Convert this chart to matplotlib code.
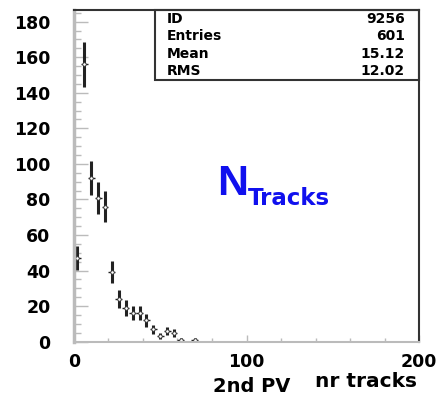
import numpy as np
import matplotlib
matplotlib.use('Agg')
import matplotlib.pyplot as plt
from matplotlib.ticker import MultipleLocator

# the reference uses a wide, heavy Helvetica; DejaVu Sans Bold is the closest in width
plt.rcParams['font.family'] = ['DejaVu Sans']
plt.rcParams['font.weight'] = 'bold'

# histogram contents, bins of width 4 starting at 0
bin_centers = [2, 6, 10, 14, 18, 22, 26, 30, 34, 38, 42, 46, 50, 54, 58, 62, 66, 70]
counts = [47, 156, 92, 81, 76, 39, 24, 19, 16, 16, 12, 7, 3, 6, 5, 1, 0, 1]

stat_names = ['ID', 'Entries', 'Mean', 'RMS']
stat_values = ['9256', '601', '15.12', '12.02']

x = np.array(bin_centers, dtype=float)
y = np.array(counts, dtype=float)
keep = y > 0
x, y = x[keep], y[keep]

fig = plt.figure(figsize=(4.42, 3.98), dpi=100)
ax = fig.add_axes([0.1674, 0.1415, 0.948 - 0.1674, 0.9749 - 0.1415])

# vertical error bars (sqrt N) and horizontal bin-width bars
ax.errorbar(x, y, yerr=np.sqrt(y), fmt='none', ecolor='#222222', elinewidth=2.2, capsize=0)
ax.errorbar(x, y, xerr=2, fmt='none', ecolor='#222222', elinewidth=1.0, capsize=0)
ax.plot(x, y, 'o', ms=2.5, mfc='white', mec='#333333', mew=0.6)

ax.set_xlim(0, 200)
ax.set_ylim(0, 186.6)

ax.xaxis.set_major_locator(MultipleLocator(100))
ax.xaxis.set_minor_locator(MultipleLocator(20))
ax.yaxis.set_major_locator(MultipleLocator(20))
ax.yaxis.set_minor_locator(MultipleLocator(5))

ax.tick_params(axis='both', which='both', direction='in', color='#bbbbbb')
ax.tick_params(axis='y', which='major', length=10, width=1, pad=17, labelsize=12.5)
ax.tick_params(axis='y', which='minor', length=5, width=1)
ax.tick_params(axis='x', which='major', length=5, width=1, pad=8, labelsize=12.5)
ax.tick_params(axis='x', which='minor', length=3, width=1)

ax.spines['left'].set_color('#bbbbbb')
ax.spines['left'].set_linewidth(2.5)
ax.spines['bottom'].set_color('#bbbbbb')
ax.spines['bottom'].set_linewidth(1.5)
ax.spines['top'].set_color('#333333')
ax.spines['top'].set_linewidth(1.5)
ax.spines['right'].set_color('#333333')
ax.spines['right'].set_linewidth(1.5)

# stats box
bx0, by0 = 155 / 442, 1 - 80 / 398
bx1, by1 = 419 / 442, 1 - 10 / 398
fig.patches.append(plt.Rectangle((bx0, by0), bx1 - bx0, by1 - by0, transform=fig.transFigure,
                                 fill=False, ec='#333333', lw=1.5))
row_h = (by1 - by0) / 4
for i, (name, val) in enumerate(zip(stat_names, stat_values)):
    yy = by1 - row_h * (i + 0.5)
    fig.text(167 / 442, yy, name, ha='left', va='center', fontsize=10, fontweight='bold')
    fig.text(405 / 442, yy, val, ha='right', va='center', fontsize=10, fontweight='bold')

# label
fig.text(217 / 442, 1 - 195 / 398, 'N', color='#1010ee', fontsize=31, fontweight='bold',
         ha='left', va='baseline', family='Liberation Sans')
fig.text(248 / 442, 1 - 205 / 398, 'Tracks', color='#1010ee', fontsize=16.5, fontweight='bold',
         ha='left', va='baseline')

# axis titles
fig.text(290 / 442, 1 - 392 / 398, '2nd PV', fontsize=14, fontweight='bold', ha='right', va='baseline')
fig.text(417 / 442, 1 - 387 / 398, 'nr tracks', fontsize=14.5, fontweight='bold', ha='right', va='baseline')

fig.savefig('out.png', dpi=100)
